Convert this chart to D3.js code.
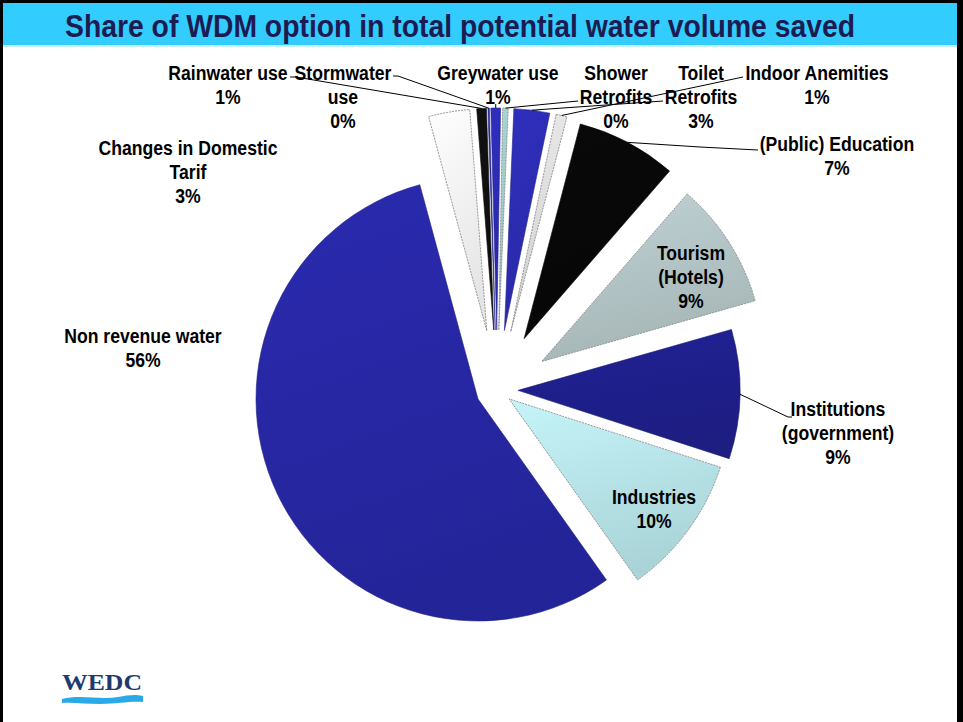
<!DOCTYPE html>
<html><head><meta charset="utf-8">
<script src="https://cdn.jsdelivr.net/npm/d3@7"></script>
<style>body{margin:0;background:#fff}svg{display:block}</style>
</head><body>
<svg id="c" width="963" height="722"></svg>
<script>
// ---------- DATA ----------
const title = "Share of WDM option in total potential water volume saved";
const categories = ["Rainwater use","Stormwater use","Greywater use","Shower Retrofits","Toilet Retrofits","Indoor Anemities","(Public) Education","Tourism (Hotels)","Institutions (government)","Industries","Non revenue water","Changes in Domestic Tarif"];
const values = [0.7, 0.1, 0.7, 0.4, 2.6, 0.8, 7.3, 9.2, 9.4, 10.2, 55.6, 3.0];
const labelLines = [["Rainwater use"],["Stormwater","use"],["Greywater use"],["Shower","Retrofits"],["Toilet","Retrofits"],["Indoor Anemities"],["(Public) Education"],["Tourism","(Hotels)"],["Institutions","(government)"],["Industries"],["Non revenue water"],["Changes in Domestic","Tarif"]];

// ---------- STYLE / LAYOUT ----------
const colors = ["#101010","#2a2aa8","#2c2cb4","#9fcac7","#2c2cb2","#dedede","#080808","#b3c4c6","#1f1f8c","#b7e4e8","#2727a4","#f6f6f6"];
const explode = [60,60,60,60,60,60,58,53,21,15,21,60];
const center = [497, 390], R = 222, startDeg = -4.4;
const labelPos = [[228,80],[343,80],[498,80],[616,80],[701,80],[817,80],[837,151],[691,260],[838,416],[654,504],[143,343],[188,155]];
const leaders = [[[296,77],[290,77]],[[398,76],[393,76]],"tick",[[578,101]],[[663,101]],[[743,77]],[[700,147],[758,150]],null,[[788,417],[792,417]],null,null,null];
const lineH = 24, squeeze = 0.88;
const FONT = "'Liberation Sans', Arial, sans-serif";

const svg = d3.select("#c");
const total = d3.sum(values);

// frame + title bar
svg.append("rect").attr("width",963).attr("height",722).attr("fill","#000");
svg.append("rect").attr("x",3).attr("y",3).attr("width",954).attr("height",719).attr("fill","#fff");
svg.append("rect").attr("x",3).attr("y",3).attr("width",954).attr("height",42).attr("fill","#33ccff");
svg.append("rect").attr("x",3).attr("y",45).attr("width",954).attr("height",2).attr("fill","#c6f0ff");
svg.append("text").attr("x",460).attr("y",37).attr("text-anchor","middle")
  .attr("font-family",FONT).attr("font-weight","bold").attr("font-size",31)
  .attr("fill","#1c1c52").attr("textLength",790).attr("lengthAdjust","spacingAndGlyphs").text(title);

// gradients
const defs = svg.append("defs");
colors.forEach((c,i)=>{
  const g = defs.append("linearGradient").attr("id","g"+i).attr("x1",0).attr("y1",0).attr("x2",0.3).attr("y2",1);
  g.append("stop").attr("offset","0%").attr("stop-color", d3.color(c).brighter(0.2));
  g.append("stop").attr("offset","100%").attr("stop-color", d3.color(c).darker(0.2));
});

const pie = d3.pie().sort(null).value(d=>d)
  .startAngle(startDeg*Math.PI/180).endAngle(startDeg*Math.PI/180 + 2*Math.PI);
const arcs = pie(values);
const arcGen = d3.arc().innerRadius(0).outerRadius(R);

function apex(a,i){
  const m = (a.startAngle+a.endAngle)/2;
  return [center[0] + explode[i]*Math.sin(m), center[1] - explode[i]*Math.cos(m)];
}

const gPie = svg.append("g");
arcs.forEach((a,i)=>{
  const p = apex(a,i);
  const light = d3.hsl(colors[i]).l > 0.5;
  gPie.append("path").attr("d",arcGen(a))
    .attr("transform",`translate(${p[0]},${p[1]})`)
    .attr("fill",`url(#g${i})`)
    .attr("stroke", light ? "#8c8c8c" : d3.color(colors[i]).darker(0.6))
    .attr("stroke-width", light ? 0.9 : 0.6)
    .attr("stroke-dasharray", light ? "2 1" : null);
});

// text helper
function addText(x,y,str){
  const t = svg.append("text").attr("x",x).attr("y",y).attr("text-anchor","middle")
    .attr("font-family",FONT).attr("font-weight","bold").attr("font-size",20)
    .attr("fill","#000").text(str);
  const len = t.node().getComputedTextLength();
  t.attr("textLength",len*squeeze).attr("lengthAdjust","spacingAndGlyphs");
  return t;
}

// leader lines
const gLines = svg.append("g").attr("fill","none").attr("stroke","#000").attr("stroke-width",1);
arcs.forEach((a,i)=>{
  const L = leaders[i]; if(!L) return;
  const p = apex(a,i), m=(a.startAngle+a.endAngle)/2;
  const anchor = [p[0]+R*Math.sin(m), p[1]-R*Math.cos(m)];
  const pts = L==="tick" ? [[anchor[0],anchor[1]],[anchor[0],104]] : [anchor].concat(L);
  gLines.append("path").attr("d",d3.line()(pts));
});

// labels
arcs.forEach((a,i)=>{
  const lines = labelLines[i].concat([Math.round(values[i]/total*100)+"%"]);
  const x = labelPos[i][0], y0 = labelPos[i][1];
  lines.forEach((s,k)=>addText(x, y0+k*lineH, s));
});

// WEDC logo
const logo = svg.append("g");
logo.append("path").attr("d","M62,699 C80,694 100,700 118,697 C128,695 136,694 143,696 L143,702 C130,701 118,704 100,704 C85,704 72,702 62,703 Z")
  .attr("fill","#29a9e6");
logo.append("text").attr("x",102).attr("y",690).attr("text-anchor","middle")
  .attr("font-family","'Liberation Serif','DejaVu Serif',serif").attr("font-weight","bold").attr("font-size",24)
  .attr("fill","#1f3a70").attr("textLength",80).attr("lengthAdjust","spacingAndGlyphs").text("WEDC");
</script>
</body></html>
